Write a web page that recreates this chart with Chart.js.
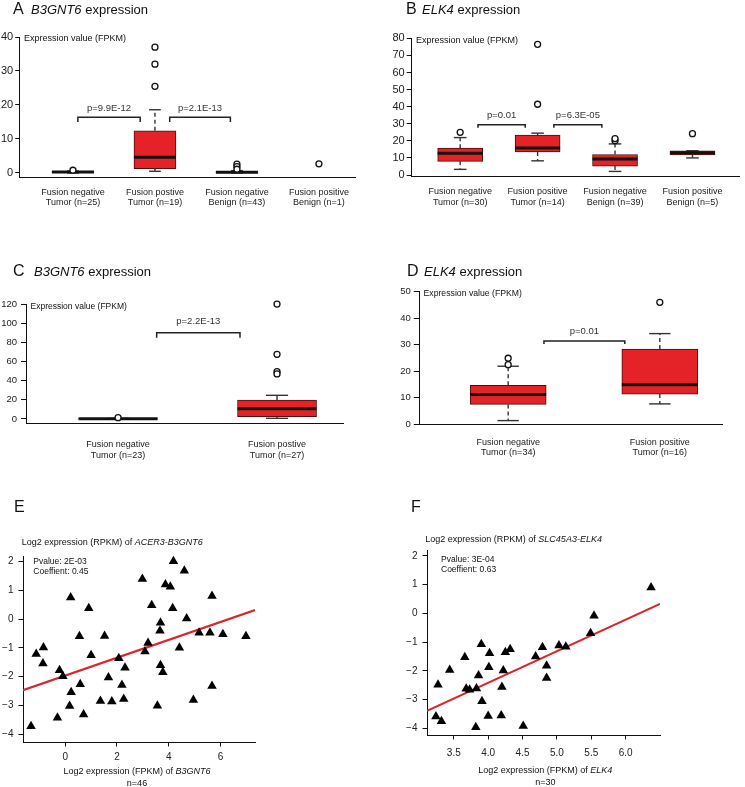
<!DOCTYPE html>
<html>
<head>
<meta charset="utf-8">
<script src="https://cdn.jsdelivr.net/npm/chart.js@4.4.0/dist/chart.umd.min.js"></script>
<style>
body { margin: 0; background: #fff; }
#page { position: relative; width: 745px; height: 787px; overflow: hidden; }
#page canvas { position: absolute; left: 0; top: 0; }
.t { position: absolute; white-space: nowrap; line-height: 1; font-family: 'Liberation Sans', Arial, sans-serif; color: #111; }
</style>
</head>
<body>
<div id="page">
  <canvas id="cA" width="745" height="787"></canvas>
  <canvas id="cB" width="745" height="787"></canvas>
  <canvas id="cC" width="745" height="787"></canvas>
  <canvas id="cD" width="745" height="787"></canvas>
  <canvas id="cE" width="745" height="787"></canvas>
  <canvas id="cF" width="745" height="787"></canvas>
</div>
<script>
// ---- A: B3GNT6, 4 groups
const catsA = [['Fusion negative', 'Tumor (n=25)'], ['Fusion postive', 'Tumor (n=19)'], ['Fusion negative', 'Benign (n=43)'], ['Fusion positive', 'Benign (n=1)']];
const loA  = [0.0, 0.5, 0.0, null];
const q1A  = [0.1, 1.3, 0.05, null];
const medA = [0.3, 4.6, 0.2, null];
const q3A  = [0.45, 12.4, 0.4, null];
const hiA  = [0.6, 18.6, 0.7, null];
const outXA = [0, 1, 1, 1, 2, 2, 2, 3];
const outYA = [0.8, 37, 32, 25.5, 2.6, 1.9, 1.1, 2.7];
const pA = ['p=9.9E-12', 'p=2.1E-13'];
const yTicksA = [0, 10, 20, 30, 40];

// ---- B: ELK4, 4 groups
const catsB = [['Fusion negative', 'Tumor (n=30)'], ['Fusion positive', 'Tumor (n=14)'], ['Fusion negative', 'Benign (n=39)'], ['Fusion positive', 'Benign (n=5)']];
const loB  = [3.3, 8.3, 2.1, 10.0];
const q1B  = [8.0, 13.5, 5.2, 11.8];
const medB = [12.7, 15.8, 9.4, 13.0];
const q3B  = [15.7, 23.3, 12.0, 14.2];
const hiB  = [21.9, 24.5, 18.2, 14.2];
const outXB = [0, 1, 1, 2, 2, 3];
const outYB = [25, 41.4, 76.5, 20.1, 21.3, 24.2];
const pB = ['p=0.01', 'p=6.3E-05'];
const yTicksB = [0, 10, 20, 30, 40, 50, 60, 70, 80];

// ---- C: B3GNT6, 2 groups
const catsC = [['Fusion negative', 'Tumor (n=23)'], ['Fusion postive', 'Tumor (n=27)']];
const loC  = [0.0, 0.7];
const q1C  = [0.1, 2.4];
const medC = [0.3, 10.8];
const q3C  = [0.5, 19.8];
const hiC  = [0.6, 24.7];
const outXC = [0, 1, 1, 1, 1];
const outYC = [1.4, 119.9, 67.5, 49.4, 47];
const pC = ['p=2.2E-13'];
const yTicksC = [0, 20, 40, 60, 80, 100, 120];

// ---- D: ELK4, 2 groups
const catsD = [['Fusion negative', 'Tumor (n=34)'], ['Fusion positive', 'Tumor (n=16)']];
const loD  = [1.4, 7.7];
const q1D  = [7.5, 11.4];
const medD = [11.2, 14.9];
const q3D  = [14.7, 28.4];
const hiD  = [21.9, 34.2];
const outXD = [0, 0, 1];
const outYD = [22.5, 24.9, 46.0];
const pD = ['p=0.01'];
const yTicksD = [0, 10, 20, 30, 40, 50];

// ---- E: ACER3-B3GNT6 vs B3GNT6 (n=46)
const xE = [-1.32, -1.12, -0.84, -0.86, -0.22, -0.09, -0.30, 0.17, 0.23, 0.21, 0.91, 0.55, 0.58, 0.71, 1.0, 1.36,
  1.52, 1.67, 1.80, 2.07, 2.19, 2.26, 2.31, 2.98, 3.08, 3.2, 3.34, 3.56, 3.68, 3.66, 3.68, 3.77, 3.87, 4.06, 4.18,
  4.15, 4.41, 4.60, 4.69, 4.95, 5.17, 5.59, 5.67, 5.67, 6.09, 6.98];
const yE = [-3.72, -1.21, -0.98, -1.54, -1.77, -1.98, -3.43, -3.02, -2.54, 0.76, 0.38, -0.59, -2.26, -3.31, -1.25, -2.84,
  -0.58, -2.03, -2.86, -1.36, -2.29, -2.77, -1.69, 1.40, -1.12, -0.83, 0.49, -3.01, -0.12, -0.40, -1.60, -1.84, 1.21, 1.13, 2.02,
  0.38, -0.99, 1.69, 0.03, -2.81, -0.47, -0.47, 0.81, -2.32, -0.52, -0.59];
const fitXE = [-1.63, 7.33];
const fitYE = [-2.47, 0.32];
const xTicksE = [0, 2, 4, 6];
const yTicksE = [-4, -3, -2, -1, 0, 1, 2];

// ---- F: SLC45A3-ELK4 vs ELK4 (n=30)
const xF = [3.24, 3.32, 3.27, 3.44, 3.66, 3.68, 3.73, 3.83, 3.82, 3.86, 3.91, 3.90, 4.0, 4.02, 4.01,
  4.20, 4.19, 4.22, 4.25, 4.32, 4.51, 4.69, 4.79, 4.85, 4.85, 5.03, 5.13, 5.49, 5.54, 6.37];
const yF = [-3.59, -3.75, -2.48, -1.97, -1.53, -2.62, -2.66, -2.61, -3.96, -2.16, -3.06, -1.07, -3.57, -1.39, -1.87,
  -2.56, -3.55, -1.99, -1.35, -1.25, -3.92, -1.50, -1.18, -1.82, -2.25, -1.12, -1.16, -0.69, -0.08, 0.90];
const fitXF = [3.11, 6.5];
const fitYF = [-3.39, 0.33];
const xTicksF = [3.5, 4.0, 4.5, 5.0, 5.5, 6.0];
const yTicksF = [-4, -3, -2, -1, 0, 1, 2];

const W = 745, H = 787;
const FONT = "'Liberation Sans', Arial, Helvetica, sans-serif";
Chart.defaults.font.family = FONT;
Chart.defaults.color = '#222';

const minus = v => (v < 0 ? '\u2212' + Math.abs(v) : String(v));

// whiskers, caps, medians and significance brackets
const boxParts = {
  id: 'boxparts',
  afterDatasetDraw(chart, args, o) {
    if (args.index !== 0) return;
    const ctx = chart.ctx, y = chart.scales.y, x = chart.scales.x;
    const meta = chart.getDatasetMeta(0);
    const seg = (x0, y0, x1, y1) => { ctx.beginPath(); ctx.moveTo(x0, y0); ctx.lineTo(x1, y1); ctx.stroke(); };
    ctx.save();
    o.med.forEach((m, i) => {
      if (m == null) return;
      const bar = meta.data[i];
      const cx = bar.x, half = bar.width / 2, cap = bar.width * 0.14;
      const yq1 = y.getPixelForValue(o.q1[i]), yq3 = y.getPixelForValue(o.q3[i]);
      const ylo = y.getPixelForValue(o.lo[i]), yhi = y.getPixelForValue(o.hi[i]);
      ctx.strokeStyle = '#333';
      ctx.lineWidth = 1.4;
      ctx.setLineDash([4, 3]);
      if (yhi < yq3 - 1) seg(cx, yq3, cx, yhi);
      if (ylo > yq1 + 1) seg(cx, yq1, cx, ylo);
      ctx.setLineDash([]);
      seg(cx - cap, yhi, cx + cap, yhi);
      seg(cx - cap, ylo, cx + cap, ylo);
      ctx.strokeStyle = '#111';
      ctx.lineWidth = 3;
      seg(cx - half, y.getPixelForValue(m), cx + half, y.getPixelForValue(m));
    });
    ctx.strokeStyle = '#222';
    ctx.lineWidth = 1.5;
    ctx.fillStyle = '#333';
    ctx.font = '9.5px ' + FONT;
    ctx.textAlign = 'center';
    ctx.textBaseline = 'middle';
    o.brackets.forEach((b, i) => {
      const x0 = x.getPixelForValue(b.x0), x1 = x.getPixelForValue(b.x1);
      const yb = y.getPixelForValue(b.y), yd = y.getPixelForValue(b.y2);
      ctx.beginPath();
      ctx.moveTo(x0, yd); ctx.lineTo(x0, yb); ctx.lineTo(x1, yb); ctx.lineTo(x1, yd);
      ctx.stroke();
      ctx.fillText(o.labels[i], (x0 + x1) / 2, yb - o.textGap);
    });
    ctx.restore();
  }
};

function boxChart(id, c) {
  const yW = 30, xH = 50;
  const a = c.area;
  new Chart(document.getElementById(id), {
    type: 'bar',
    data: {
      datasets: [{
        type: 'bar',
        data: c.q1.map((v, i) => ({ x: i, y: v == null ? null : [v, c.q3[i]] })),
        backgroundColor: '#e42228',
        borderColor: '#4a0c0c',
        borderWidth: 1,
        borderSkipped: false,
        barThickness: c.bw,
        order: 2
      }, {
        type: 'scatter',
        data: c.outX.map((v, i) => ({ x: v, y: c.outY[i] })),
        pointStyle: 'circle',
        radius: 3,
        borderColor: '#111',
        borderWidth: 1.3,
        backgroundColor: '#fff',
        clip: false,
        order: 1
      }]
    },
    options: {
      responsive: false,
      animation: false,
      layout: { padding: { left: a.l - yW, top: a.t, right: W - a.r, bottom: H - a.b - xH } },
      scales: {
        x: {
          type: 'linear', min: c.xMin, max: c.xMax, offset: false,
          grid: { drawOnChartArea: false, drawTicks: false, offset: false },
          border: { color: '#111', width: 1 },
          afterBuildTicks: s => { s.ticks = c.cats.map((_, i) => ({ value: i })); },
          afterFit: s => { s.height = xH; },
          ticks: { autoSkip: false, maxRotation: 0, padding: c.labPad, color: '#222',
                   font: { size: 9, lineHeight: 1.15 }, callback: v => c.cats[v] }
        },
        y: {
          min: c.yMin, max: c.yMax,
          grid: { drawOnChartArea: false, drawTicks: true, tickLength: c.tickLen, color: '#111' },
          border: { color: '#111', width: 1 },
          afterBuildTicks: s => { s.ticks = c.yTicks.map(v => ({ value: v })); },
          afterFit: s => { s.width = yW; },
          ticks: { padding: c.tickPad, color: '#222', font: { size: c.tickSize } }
        }
      },
      plugins: {
        legend: { display: false },
        tooltip: { enabled: false },
        boxparts: { lo: c.lo, q1: c.q1, med: c.med, q3: c.q3, hi: c.hi,
                    brackets: c.brackets, labels: c.labels, textGap: c.textGap }
      }
    },
    plugins: [boxParts]
  });
}

function scatterChart(id, c) {
  const yW = 30, xH = 45;
  const a = c.area;
  new Chart(document.getElementById(id), {
    type: 'scatter',
    data: {
      datasets: [{
        type: 'line',
        data: c.fitX.map((v, i) => ({ x: v, y: c.fitY[i] })),
        borderColor: '#d8262c',
        borderWidth: 2.2,
        pointRadius: 0,
        order: 2
      }, {
        type: 'scatter',
        data: c.x.map((v, i) => ({ x: v, y: c.y[i] })),
        pointStyle: 'triangle',
        radius: 5.5,
        backgroundColor: '#000',
        borderWidth: 0,
        clip: false,
        order: 1
      }]
    },
    options: {
      responsive: false,
      animation: false,
      layout: { padding: { left: a.l - yW, top: a.t, right: W - a.r, bottom: H - a.b - xH } },
      scales: {
        x: {
          type: 'linear', min: c.xMin, max: c.xMax,
          grid: { drawOnChartArea: false, drawTicks: true, tickLength: 4.5, color: '#111' },
          border: { color: '#111', width: 1 },
          afterBuildTicks: s => { s.ticks = c.xTicks.map(v => ({ value: v })); },
          afterFit: s => { s.height = xH; },
          ticks: { padding: c.xPad, color: '#222', font: { size: 10 }, callback: c.xFmt }
        },
        y: {
          min: c.yMin, max: c.yMax,
          grid: { drawOnChartArea: false, drawTicks: true, tickLength: 4.5, color: '#111' },
          border: { color: '#111', width: 1 },
          afterBuildTicks: s => { s.ticks = c.yTicks.map(v => ({ value: v })); },
          afterFit: s => { s.width = yW; },
          ticks: { padding: 5, color: '#222', font: { size: 10 }, callback: minus }
        }
      },
      plugins: { legend: { display: false }, tooltip: { enabled: false } }
    }
  });
}

boxChart('cA', {
  cats: catsA, lo: loA, q1: q1A, med: medA, q3: q3A, hi: hiA, outX: outXA, outY: outYA,
  yTicks: yTicksA, labels: pA,
  area: { l: 19.5, t: 37, r: 355, b: 177 }, xMin: -0.652, xMax: 3.44, yMin: -1.18, yMax: 40,
  bw: 42, labPad: 10, tickLen: 4.3, tickPad: 2, tickSize: 11, textGap: 9,
  brackets: [{ x0: 0.06, x1: 0.82, y: 16.4, y2: 15.0 }, { x0: 1.18, x1: 1.92, y: 16.4, y2: 15.0 }]
});
boxChart('cB', {
  cats: catsB, lo: loB, q1: q1B, med: medB, q3: q3B, hi: hiB, outX: outXB, outY: outYB,
  yTicks: yTicksB, labels: pB,
  area: { l: 411, t: 38.3, r: 745, b: 176 }, xMin: -0.635, xMax: 3.61, yMin: -0.58, yMax: 80,
  bw: 45, labPad: 10.5, tickLen: 4.3, tickPad: 2, tickSize: 11, textGap: 9,
  brackets: [{ x0: 0.23, x1: 0.84, y: 29.4, y2: 27.7 }, { x0: 1.21, x1: 1.83, y: 29.4, y2: 27.7 }]
});
boxChart('cC', {
  cats: catsC, lo: loC, q1: q1C, med: medC, q3: q3C, hi: hiC, outX: outXC, outY: outYC,
  yTicks: yTicksC, labels: pC,
  area: { l: 26, t: 304, r: 343, b: 423.3 }, xMin: -0.579, xMax: 1.415, yMin: -4.5, yMax: 120,
  bw: 79, labPad: 16.5, tickLen: 5, tickPad: 4, tickSize: 9.5, textGap: 11,
  brackets: [{ x0: 0.243, x1: 0.767, y: 90.1, y2: 84.9 }]
});
boxChart('cD', {
  cats: catsD, lo: loD, q1: q1D, med: medD, q3: q3D, hi: hiD, outX: outXD, outY: outYD,
  yTicks: yTicksD, labels: pD,
  area: { l: 419.3, t: 291.7, r: 722, b: 425 }, xMin: -0.586, xMax: 1.41, yMin: -0.26, yMax: 50,
  bw: 76, labPad: 12, tickLen: 5.5, tickPad: 3, tickSize: 9.5, textGap: 9.5,
  brackets: [{ x0: 0.236, x1: 0.769, y: 31.4, y2: 30.3 }]
});
scatterChart('cE', {
  x: xE, y: yE, fitX: fitXE, fitY: fitYE, xTicks: xTicksE, yTicks: yTicksE,
  area: { l: 23, t: 556, r: 255, b: 742 }, xMin: -1.63, xMax: 7.33, yMin: -4.27, yMax: 2.2,
  xPad: 4.5, xFmt: v => String(v)
});
scatterChart('cF', {
  x: xF, y: yF, fitX: fitXF, fitY: fitYF, xTicks: xTicksF, yTicks: yTicksF,
  area: { l: 427, t: 550.7, r: 660, b: 735 }, xMin: 3.11, xMax: 6.5, yMin: -4.23, yMax: 2.18,
  xPad: 7.5, xFmt: v => v.toFixed(1)
});

// text captions
const page = document.getElementById('page');
function addText(x, base, size, html, center) {
  const d = document.createElement('div');
  d.className = 't';
  d.style.left = x + 'px';
  d.style.top = (base - 0.8465 * size) + 'px';
  d.style.fontSize = size + 'px';
  if (center) d.style.transform = 'translateX(-50%)';
  d.innerHTML = html;
  page.appendChild(d);
}
addText(13, 15, 16, 'A');
addText(31, 14.5, 13, '<i>B3GNT6</i> expression');
addText(406, 15, 16, 'B');
addText(422, 14.5, 13, '<i>ELK4</i> expression');
addText(13, 277, 16, 'C');
addText(34, 276, 13, '<i>B3GNT6</i> expression');
addText(407, 277, 16, 'D');
addText(424, 276, 13, '<i>ELK4</i> expression');
addText(14, 513, 16, 'E');
addText(411, 513, 16, 'F');

addText(24, 41.3, 9, 'Expression value (FPKM)');
addText(416, 43.3, 9, 'Expression value (FPKM)');
addText(30.5, 309.3, 8.5, 'Expression value (FPKM)');
addText(423.5, 296.7, 8.7, 'Expression value (FPKM)');

addText(21.7, 546, 9, 'Log2 expression (RPKM) of <i>ACER3-B3GNT6</i>');
addText(33.3, 564.3, 8.5, 'Pvalue: 2E-03');
addText(33.3, 574.3, 8.5, 'Coeffient: 0.45');
addText(137, 775, 9, 'Log2 expression (FPKM) of <i>B3GNT6</i>', true);
addText(137, 786.5, 9, 'n=46', true);

addText(425.3, 543, 9, 'Log2 expression (RPKM) of <i>SLC45A3-ELK4</i>');
addText(441, 562.3, 8.5, 'Pvalue: 3E-04');
addText(441, 572.3, 8.5, 'Coeffient: 0.63');
addText(545.3, 773.3, 9, 'Log2 expression (FPKM) of <i>ELK4</i>', true);
addText(545.3, 786, 9, 'n=30', true);
</script>
</body>
</html>
